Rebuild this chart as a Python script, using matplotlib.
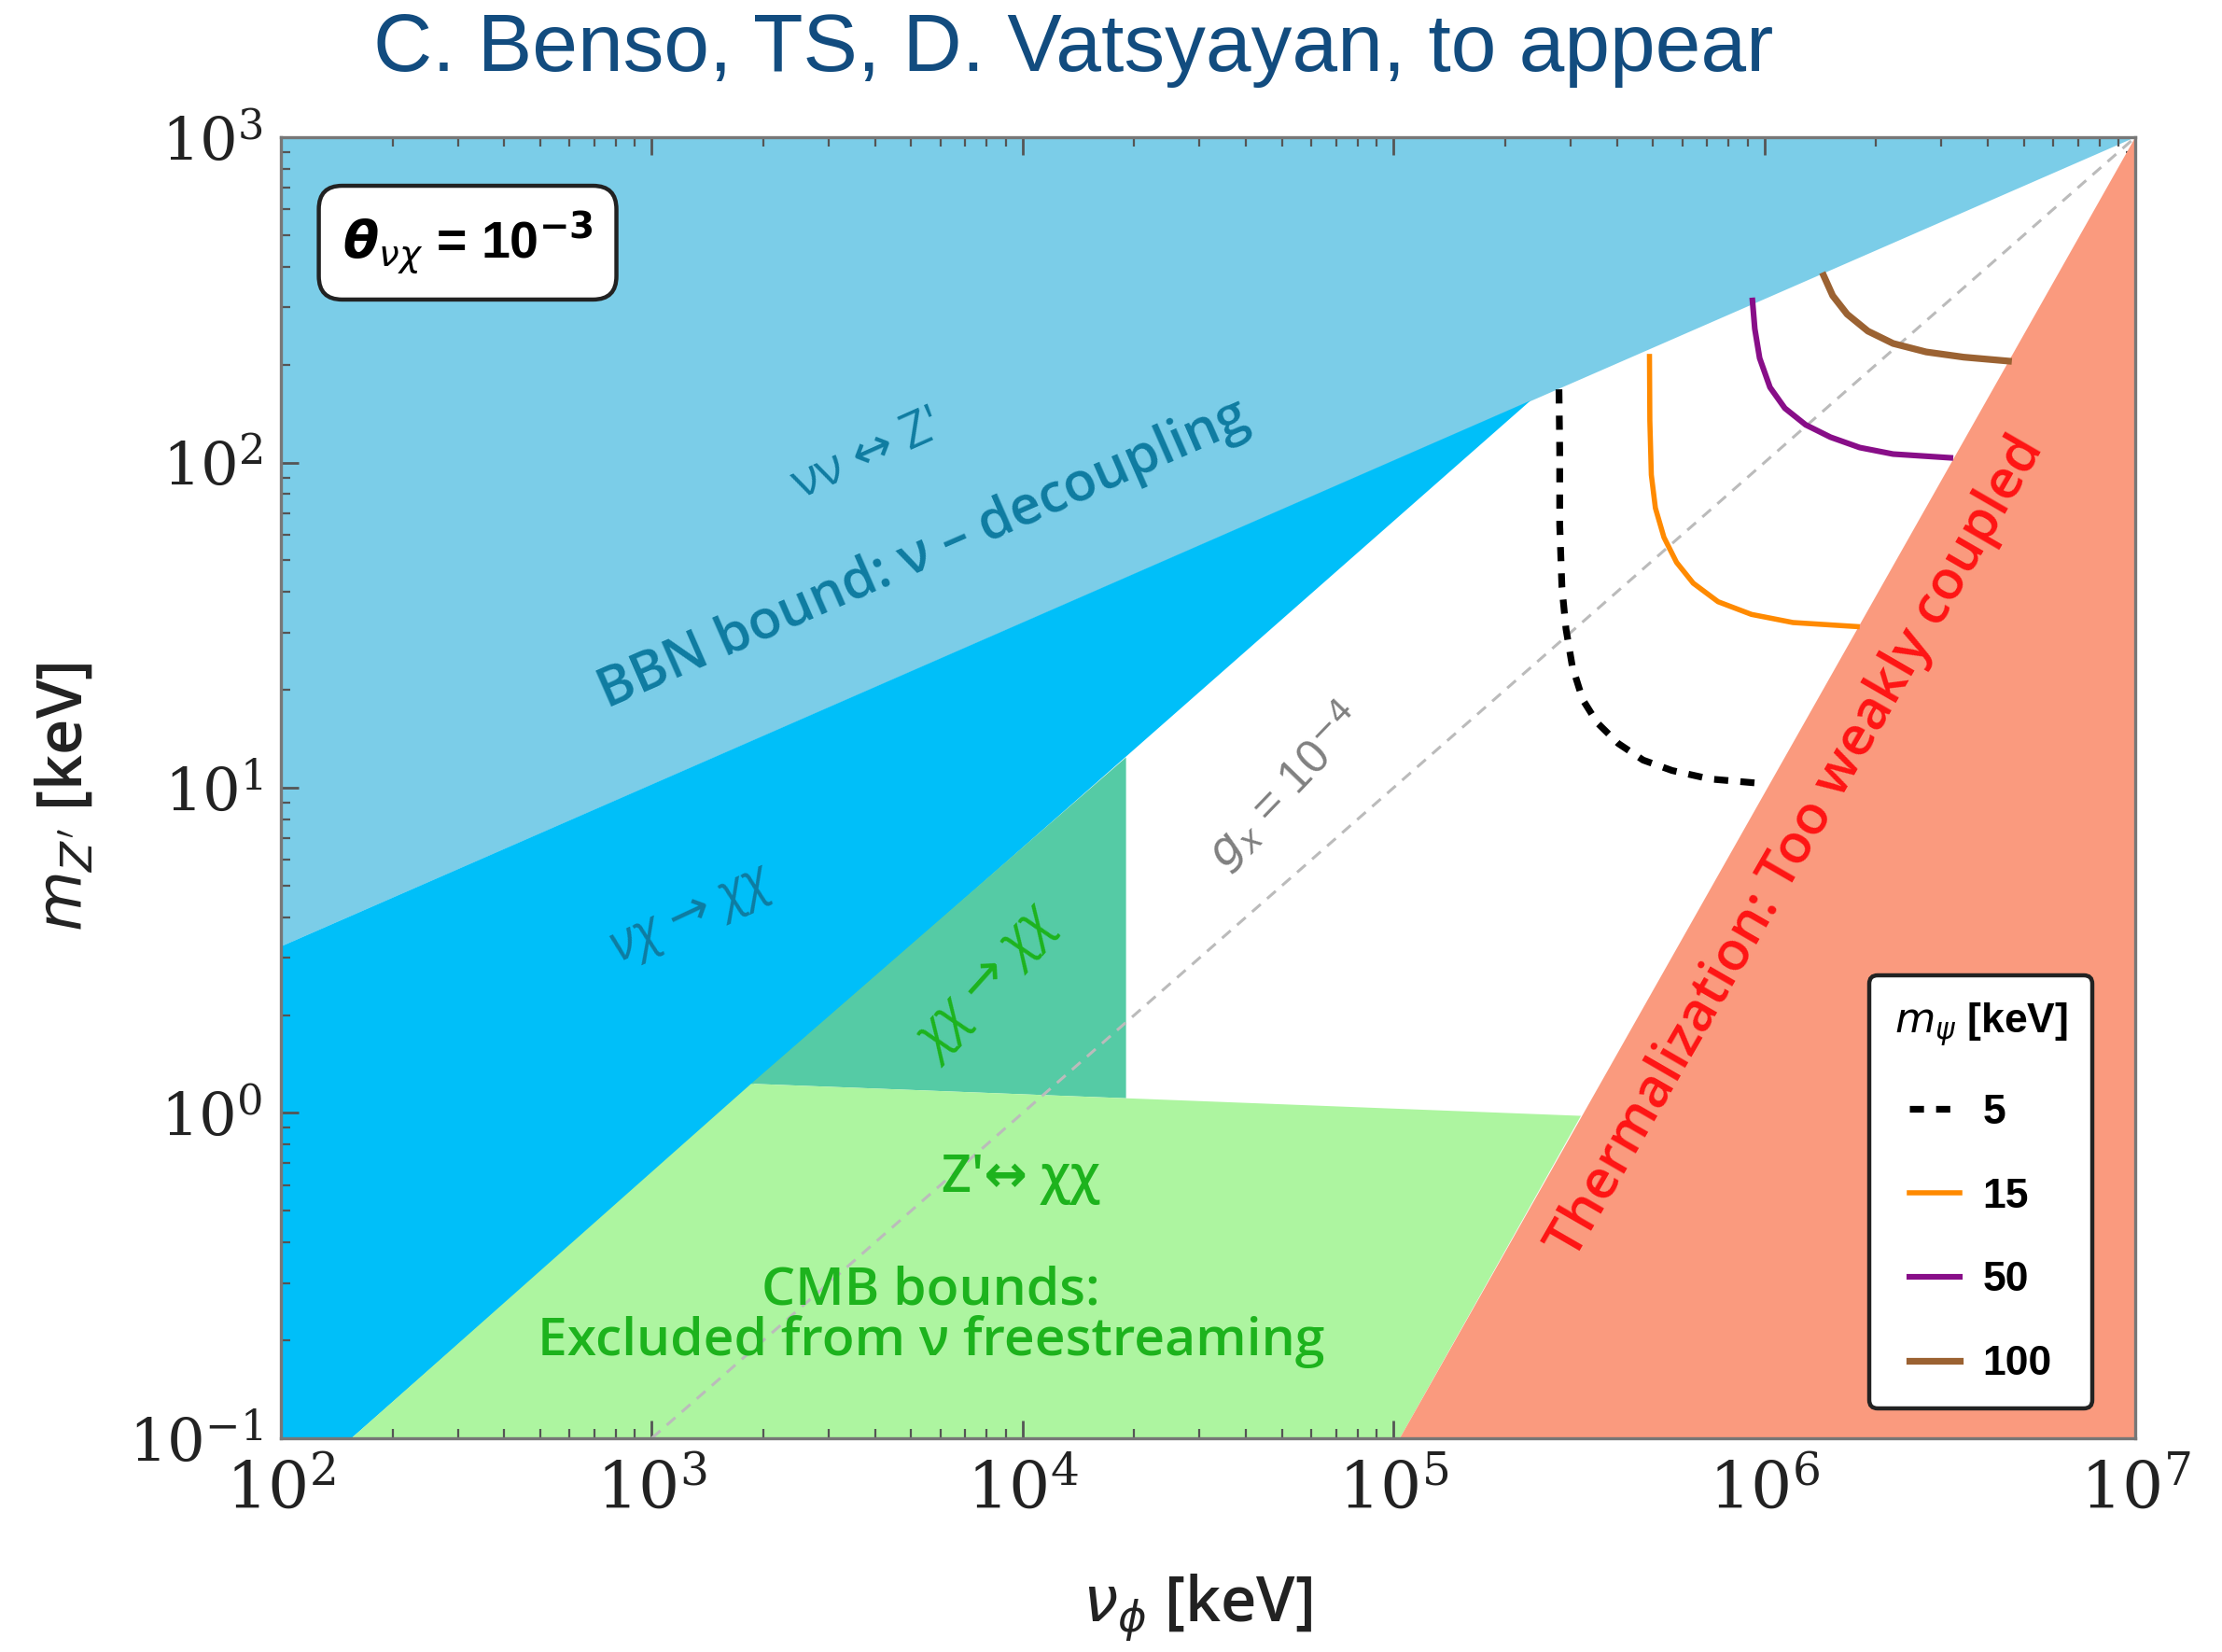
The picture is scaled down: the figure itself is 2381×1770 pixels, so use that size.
"""Z' mass vs vev exclusion plot (BBN / CMB / thermalization bounds)."""
import matplotlib
matplotlib.use('Agg')
import matplotlib.pyplot as plt
import numpy as np
from matplotlib.ticker import FixedLocator, LogLocator, FuncFormatter, NullFormatter
from matplotlib.lines import Line2D

plt.rcParams['mathtext.fontset'] = 'dejavuserif'

# ── excluded regions: vertices (v_phi [keV], m_Z' [keV]) ──
bbn_v = [1e2, 1e7, 1e2]
bbn_m = [3.25, 1e3, 1e3]

nuchi_v = [1e2, 155, 2.34e5, 1e2]
nuchi_m = [0.1, 0.1, 155, 3.25]

chichi_v = [1853, 1.9e4, 1.9e4]
chichi_m = [1.23, 12.4, 1.11]

cmb_v = [155, 1853, 1.9e4, 3.2e5, 1.04e5]
cmb_m = [0.1, 1.23, 1.11, 0.98, 0.1]

therm_v = [1.04e5, 1e7, 1e7]
therm_m = [0.1, 1e3, 0.1]

gx_v = [1e3, 1e7]
gx_m = [0.1, 1e3]

mpsi_labels = ['5', '15', '50', '100']

c5_lv = [5.446, 5.448, 5.448, 5.454, 5.465, 5.482, 5.510, 5.549, 5.606, 5.673, 5.751, 5.853, 6.004]
c5_lm = [2.225, 2.039, 1.809, 1.616, 1.488, 1.373, 1.271, 1.200, 1.136, 1.085, 1.053, 1.027, 1.012]

c15_lv = [5.690, 5.691, 5.695, 5.706, 5.729, 5.763, 5.808, 5.875, 5.965, 6.077, 6.257]
c15_lm = [2.334, 2.129, 1.962, 1.860, 1.770, 1.693, 1.629, 1.572, 1.533, 1.508, 1.495]

c50_lv = [5.967, 5.974, 5.987, 6.015, 6.055, 6.111, 6.178, 6.257, 6.347, 6.509]
c50_lm = [2.507, 2.411, 2.321, 2.231, 2.167, 2.116, 2.078, 2.046, 2.026, 2.014]

c100_lv = [6.156, 6.184, 6.223, 6.279, 6.347, 6.436, 6.537, 6.667]
c100_lm = [2.584, 2.513, 2.456, 2.404, 2.366, 2.340, 2.324, 2.311]

TEXT_BLUE = '#0F7CA1'
TEXT_GREEN = '#1DB31D'
SANS = ['Open Sans', 'DejaVu Sans']

fig = plt.figure(figsize=(11.905, 8.85), dpi=200, facecolor='white')
ax = fig.add_axes([0.1264, 0.1294, 0.8346, 0.7875])
ax.set_xscale('log')
ax.set_yscale('log')
ax.set_xlim(1e2, 1e7)
ax.set_ylim(0.1, 1e3)

# ── regions ──
ax.fill(bbn_v, bbn_m, color='#7BCDE8', lw=0, zorder=1)
ax.fill(nuchi_v, nuchi_m, color='#00BFF9', lw=0, zorder=1)
ax.fill(chichi_v, chichi_m, color='#55CBA5', lw=0, zorder=1)
ax.fill(cmb_v, cmb_m, color='#ADF5A0', lw=0, zorder=1)
ax.fill(therm_v, therm_m, color='#FA9A7E', lw=0, zorder=2)

ax.plot(gx_v, gx_m, color='#BBBBBB', lw=1.1, ls=(0, (4.0, 3.0)), zorder=3)

# ── m_psi curves ──
styles = [
    dict(color='black', lw=2.6, ls=(0, (2.1, 1.8))),
    dict(color='#FF8A00', lw=2.0),
    dict(color='#880E88', lw=2.2),
    dict(color='#9B6232', lw=2.6),
]
curves = [(c5_lv, c5_lm), (c15_lv, c15_lm), (c50_lv, c50_lm), (c100_lv, c100_lm)]
for (lv, lm), st in zip(curves, styles):
    ax.plot(10 ** np.array(lv), 10 ** np.array(lm), zorder=4,
            solid_joinstyle='round', solid_capstyle='butt', **st)

# ── labels inside the plot ──
ax.text(3.81e3, 105, "νν ↔ Z'", fontsize=19, color=TEXT_BLUE, rotation=24,
        ha='center', va='center', rotation_mode='anchor', family=SANS, zorder=5)
ax.text(5.4e3, 52.0, 'BBN bound: ν – decoupling', fontsize=21, color=TEXT_BLUE,
        rotation=23.6, ha='center', va='center', rotation_mode='anchor',
        family=SANS, fontweight='semibold', zorder=5)
ax.text(1.27e3, 4.09, 'νχ → χχ', fontsize=19.5, color=TEXT_BLUE, rotation=25,
        ha='center', va='center', rotation_mode='anchor', family=SANS,
        style='italic', zorder=5)
ax.text(8.05e3, 2.48, 'χχ → χχ', fontsize=20.5, color=TEXT_GREEN, rotation=48,
        ha='center', va='center', rotation_mode='anchor', family=SANS,
        style='italic', zorder=5)
ax.text(5.1e4, 10.1, r'$g_x$ = 10$^{-4}$', fontsize=18, color='#808080', rotation=46,
        ha='center', va='center', rotation_mode='anchor', family='Liberation Sans',
        math_fontfamily='dejavusans', zorder=5)
ax.text(9.86e3, 0.626, "Z'↔ χχ", fontsize=20, color=TEXT_GREEN, ha='center',
        va='center', family=SANS, fontweight='semibold', zorder=5)
ax.text(5.66e3, 0.236, 'CMB bounds:\nExcluded from ν freestreaming', fontsize=20.5,
        color=TEXT_GREEN, ha='center', va='center', family=SANS,
        fontweight='semibold', linespacing=0.95, zorder=5)
ax.text(1.22e6, 6.56, 'Thermalization: Too weakly coupled', fontsize=21,
        color='#FF1414', rotation=60, ha='center', va='center',
        rotation_mode='anchor', family=SANS, fontweight='semibold', zorder=5)

ax.text(0.1007, 0.919, r'$\mathbfit{\theta}_{\nu\chi}$ = 10$^{\mathbf{-3}}$',
        transform=ax.transAxes, fontsize=20, ha='center', va='center',
        family='Liberation Sans', fontweight='bold', math_fontfamily='dejavusans',
        bbox=dict(boxstyle='round,pad=0.45', fc='white', ec='#222222', lw=1.6),
        zorder=6)

# ── legend ──
handles = [Line2D([0], [0], **st) for st in styles]
leg = ax.legend(handles, mpsi_labels, loc='lower right', bbox_to_anchor=(0.988, 0.007),
                title=r'$m_\psi$ [keV]',
                prop={'family': 'Liberation Sans', 'weight': 'bold', 'size': 16},
                title_fontsize=16, handlelength=1.2, handletextpad=0.55,
                labelspacing=1.1, borderpad=0.6,
                frameon=True, framealpha=1, edgecolor='#222222', fancybox=True)
leg.get_frame().set_linewidth(1.6)
leg.get_title().set_fontweight('bold')
leg.get_title().set_family('Liberation Sans')
leg.get_title().set_math_fontfamily('dejavusans')
leg.set_zorder(7)

# ── axes styling ──
ax.xaxis.set_major_locator(FixedLocator([1e2, 1e3, 1e4, 1e5, 1e6, 1e7]))
ax.yaxis.set_major_locator(FixedLocator([1e-1, 1e0, 1e1, 1e2, 1e3]))
ax.xaxis.set_minor_locator(LogLocator(base=10, subs=np.arange(2, 10), numticks=20))
ax.yaxis.set_minor_locator(LogLocator(base=10, subs=np.arange(2, 10), numticks=20))
ax.xaxis.set_minor_formatter(NullFormatter())
ax.yaxis.set_minor_formatter(NullFormatter())
fmt = FuncFormatter(lambda v, p: r'$10^{%d}$' % int(round(np.log10(v))))
ax.xaxis.set_major_formatter(fmt)
ax.yaxis.set_major_formatter(fmt)
ax.tick_params(which='both', direction='in', top=True, right=True, color='#555555',
               labelcolor='#222222')
ax.tick_params(axis='x', labelsize=25, pad=8)
ax.tick_params(axis='y', labelsize=23, pad=7)
ax.tick_params(which='major', length=7, width=1.0)
ax.tick_params(which='minor', length=3.5, width=0.8)
for sp in ax.spines.values():
    sp.set_color('#777777')
    sp.set_linewidth(1.2)
    sp.set_zorder(8)

fig.text(0.0296, 0.5175, r"$m_{Z'}$ [keV]", rotation=90, fontsize=24, ha='center',
         va='center', family=SANS, fontweight='semibold', color='#222222',
         math_fontfamily='dejavusans')
fig.text(0.539, 0.0265, r'$\nu_\phi$ [keV]', fontsize=24, ha='center', va='center',
         family=SANS, fontweight='semibold', color='#222222',
         math_fontfamily='dejavusans')

fig.text(0.483, 0.970, 'C. Benso, TS, D. Vatsyayan, to appear', fontsize=31.5,
         ha='center', va='center', color='#124C7F', family='Liberation Sans')

fig.savefig('out.png', dpi=200, facecolor='white')
